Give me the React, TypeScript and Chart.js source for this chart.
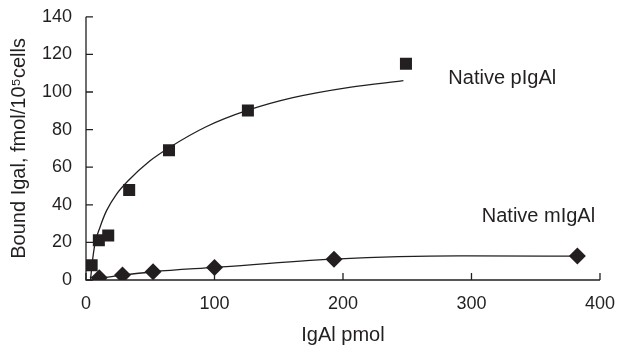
import React, { useEffect, useRef } from "react";
import { Chart, registerables } from "chart.js";

Chart.register(...registerables);

// Measured data points
const pIgAX = [4.4, 10, 17.3, 33.6, 64.6, 126, 249];
const pIgAY = [7.9, 21.1, 23.7, 47.9, 69, 90.1, 115];
const mIgAX = [10.3, 28.4, 52.2, 100, 193, 382.4];
const mIgAY = [1.2, 2.6, 4.4, 6.7, 11.1, 12.7];

// Fitted curves
const pFitX = [3.5, 5, 7, 10.9, 16, 23.8, 32.8, 49.6, 65, 93.5, 126, 161, 205, 247];
const pFitY = [0, 10, 19.4, 28.1, 36.9, 45.7, 52.8, 63.3, 70.5, 81.5, 90.3, 97, 102.5, 106];
const mFitX = [3, 10.3, 28.4, 52.2, 100, 193, 290, 382.4];
const mFitY = [1.4, 1.2, 2.6, 4.4, 6.7, 11.1, 12.8, 12.7];

const xTicks = [0, 100, 200, 300, 400];
const yTicks = [0, 20, 40, 60, 80, 100, 120, 140];

const seriesNames = ["Native pIgAl", "Native mIgAl"];
const xTitle = "IgAl pmol";
const yTitle = "Bound Igal, fmol/10\u2075cells";

const INK = "#231f20";
const FONT = "'Liberation Sans', Arial, Helvetica, sans-serif";

const zip = (xs: number[], ys: number[]) => xs.map((x, i) => ({ x, y: ys[i] }));

const axesPlugin = {
  id: "axesPlugin",
  afterDraw(chart: any) {
    const { ctx, chartArea, scales } = chart;
    const xs = scales.x;
    const ys = scales.y;
    ctx.save();
    ctx.strokeStyle = INK;
    ctx.lineWidth = 1.3;
    ctx.beginPath();
    ctx.moveTo(chartArea.left, ys.getPixelForValue(140));
    ctx.lineTo(chartArea.left, chartArea.bottom);
    ctx.lineTo(xs.getPixelForValue(400), chartArea.bottom);
    ctx.stroke();
    ctx.beginPath();
    xTicks.forEach((v) => {
      const px = xs.getPixelForValue(v);
      ctx.moveTo(px, chartArea.bottom);
      ctx.lineTo(px, chartArea.bottom - 7);
    });
    yTicks.forEach((v) => {
      const py = ys.getPixelForValue(v);
      ctx.moveTo(chartArea.left, py);
      ctx.lineTo(chartArea.left + 7, py);
    });
    ctx.stroke();

    ctx.fillStyle = INK;
    ctx.font = `20px ${FONT}`;
    ctx.textAlign = "left";
    ctx.textBaseline = "middle";
    ctx.fillText(seriesNames[0], xs.getPixelForValue(282), ys.getPixelForValue(107));
    ctx.fillText(seriesNames[1], xs.getPixelForValue(308), ys.getPixelForValue(34));
    ctx.restore();
  },
};

export default function App() {
  const ref = useRef<HTMLCanvasElement | null>(null);

  useEffect(() => {
    document.body.style.margin = "0";
    const canvas = ref.current;
    if (!canvas) return;
    const chart = new Chart(canvas, {
      type: "scatter",
      data: {
        datasets: [
          {
            label: seriesNames[0] + " fit",
            data: zip(pFitX, pFitY),
            showLine: true,
            borderColor: INK,
            borderWidth: 1.3,
            pointRadius: 0,
            cubicInterpolationMode: "monotone",
            fill: false,
          } as any,
          {
            label: seriesNames[1] + " fit",
            data: zip(mFitX, mFitY),
            showLine: true,
            borderColor: INK,
            borderWidth: 1.3,
            pointRadius: 0,
            cubicInterpolationMode: "monotone",
            fill: false,
          } as any,
          {
            label: seriesNames[0],
            data: zip(pIgAX, pIgAY),
            pointStyle: "rect",
            pointRadius: 8.5,
            backgroundColor: INK,
            borderColor: INK,
            borderWidth: 0,
          },
          {
            label: seriesNames[1],
            data: zip(mIgAX, mIgAY),
            pointStyle: "rectRot",
            pointRadius: 8.5,
            backgroundColor: INK,
            borderColor: INK,
            borderWidth: 0,
          },
        ],
      },
      options: {
        animation: false,
        responsive: false,
        layout: { padding: { left: 0, right: 16, top: 15, bottom: 0 } },
        plugins: { legend: { display: false }, tooltip: { enabled: false } },
        scales: {
          x: {
            type: "linear",
            min: 0,
            max: 400,
            afterBuildTicks: (s: any) => {
              s.ticks = xTicks.map((v) => ({ value: v }));
            },
            afterFit: (s: any) => {
              s.height = 70;
            },
            grid: { display: false },
            border: { display: false },
            ticks: {
              color: INK,
              padding: 5,
              font: { family: FONT, size: 18 },
              maxRotation: 0,
            },
            title: {
              display: true,
              text: xTitle,
              color: INK,
              font: { family: FONT, size: 20 },
              padding: { top: 0, bottom: 3 },
            },
          },
          y: {
            type: "linear",
            min: 0,
            max: 140,
            afterBuildTicks: (s: any) => {
              s.ticks = yTicks.map((v) => ({ value: v }));
            },
            afterFit: (s: any) => {
              s.width = 86;
            },
            grid: { display: false },
            border: { display: false },
            ticks: {
              color: INK,
              padding: 6,
              font: { family: FONT, size: 18 },
            },
            title: {
              display: true,
              text: yTitle,
              color: INK,
              font: { family: FONT, size: 20 },
              padding: { top: 7, bottom: 0 },
            },
          },
        },
      },
      plugins: [axesPlugin],
    });
    return () => chart.destroy();
  }, []);

  return (
    <div style={{ width: 620, height: 350, background: "#fff" }}>
      <canvas ref={ref} width={620} height={350} style={{ display: "block" }} />
    </div>
  );
}
